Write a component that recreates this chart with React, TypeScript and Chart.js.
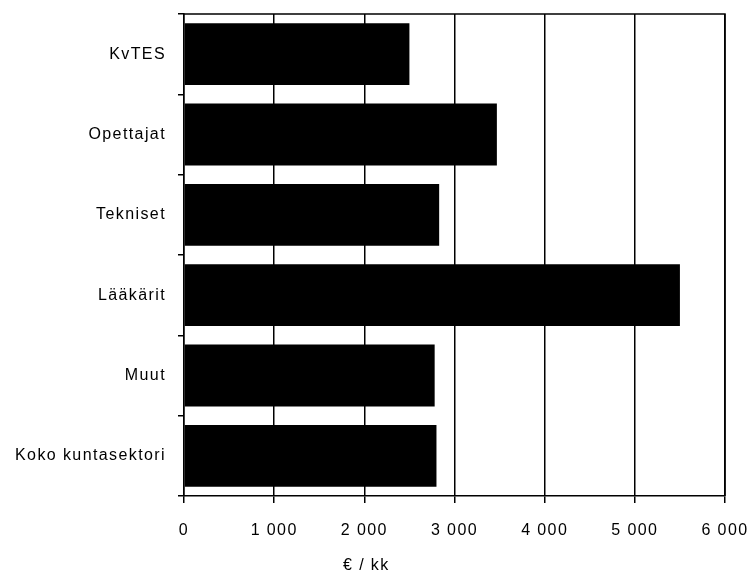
import React, { useEffect, useRef } from "react";
import { Chart, registerables } from "chart.js";

Chart.register(...registerables);

const categories = ["KvTES", "Opettajat", "Tekniset", "Lääkärit", "Muut", "Koko kuntasektori"];
const values = [2500, 3470, 2830, 5500, 2780, 2800];
const xTickLabels = ["0", "1 000", "2 000", "3 000", "4 000", "5 000", "6 000"];
const axisTitle = "€ / kk";

const FONT = "'Liberation Sans', Arial, sans-serif";
const SPACING = "1.4px";

export default function App() {
  const ref = useRef<HTMLCanvasElement | null>(null);

  useEffect(() => {
    if (!ref.current) return;
    const framePlugin = {
      id: "frame",
      beforeDraw(chart: any) {
        const ctx = chart.ctx;
        ctx.save();
        ctx.fillStyle = "#fff";
        ctx.fillRect(0, 0, chart.width, chart.height);
        ctx.restore();
        ctx.letterSpacing = SPACING;
      },
      afterDraw(chart: any) {
        const { ctx, chartArea } = chart;
        ctx.save();
        ctx.strokeStyle = "#000";
        ctx.lineWidth = 1.5;
        ctx.beginPath();
        ctx.moveTo(chartArea.left, chartArea.top);
        ctx.lineTo(chartArea.right, chartArea.top);
        ctx.lineTo(chartArea.right, chartArea.bottom);
        ctx.stroke();
        ctx.fillStyle = "#000";
        ctx.font = `16px ${FONT}`;
        ctx.letterSpacing = SPACING;
        ctx.textAlign = "center";
        ctx.textBaseline = "middle";
        const x = chart.scales.x.getPixelForValue(2000) + 2;
        ctx.fillText(axisTitle, x, 566);
        ctx.restore();
      },
    };

    const chart = new Chart(ref.current, {
      type: "bar",
      data: {
        labels: categories,
        datasets: [
          {
            data: values,
            backgroundColor: "#000",
            borderWidth: 0,
            barPercentage: 0.77,
            categoryPercentage: 1,
          },
        ],
      },
      options: {
        indexAxis: "y",
        animation: false,
        responsive: false,
        layout: { padding: { left: 0, right: 23, top: 14, bottom: 0 } },
        plugins: {
          legend: { display: false },
          tooltip: { enabled: false },
        },
        scales: {
          x: {
            min: 0,
            max: 6000,
            ticks: {
              stepSize: 1000,
              color: "#000",
              font: { family: FONT, size: 16 },
              padding: 18,
              maxRotation: 0,
              callback: (_v: any, i: number) => xTickLabels[i],
            },
            grid: { color: "#000", lineWidth: 1.5, tickLength: 7 },
            border: { display: true, color: "#000", width: 1.5 },
            afterFit: (s: any) => {
              s.height = 82;
              s.paddingLeft = 0;
              s.paddingRight = 0;
            },
          },
          y: {
            ticks: {
              color: "#000",
              font: { family: FONT, size: 16 },
              padding: 12,
            },
            grid: {
              drawOnChartArea: false,
              drawTicks: true,
              tickLength: 6,
              color: "#000",
              lineWidth: 1.5,
              offset: true,
            },
            border: { display: true, color: "#000", width: 1.5 },
            afterFit: (s: any) => {
              s.width = 184;
              s.paddingTop = 0;
              s.paddingBottom = 0;
            },
          },
        },
      },
      plugins: [framePlugin],
    });
    return () => chart.destroy();
  }, []);

  return (
    <div style={{ position: "fixed", left: 0, top: 0, width: 748, height: 578, background: "#fff" }}>
      <canvas ref={ref} width={748} height={578} style={{ display: "block" }} />
    </div>
  );
}
